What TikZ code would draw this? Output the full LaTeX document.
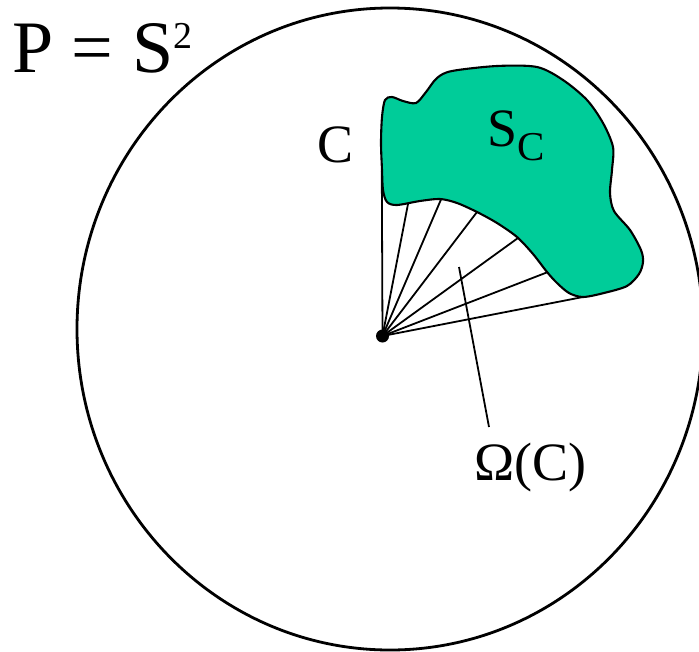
\documentclass[tikz,border=0pt]{standalone}
\usepackage{fontspec}
\setmainfont{Liberation Serif}
\definecolor{blobgreen}{RGB}{0,204,153}
\begin{document}
\begin{tikzpicture}[x=1pt,y=-1pt,
  ray/.style={line width=1.8pt},
  outline/.style={line width=2.1pt},
  lbl/.style={inner sep=0pt, anchor=base west},
  dotnode/.style={circle, fill=black, inner sep=0pt, minimum size=13pt}
]
\useasboundingbox (0,0) rectangle (699,651);
\clip (0,0) rectangle (699,651);
% sphere
\draw[line width=2.8pt] (390,329) ellipse [x radius=313, y radius=321];
% region S_C
\draw[outline, fill=blobgreen] plot[smooth cycle, tension=0.5] coordinates {
 (385,100) (392,97) (403,101) (416,103) (426,92) (437,78) (452,71)
 (497,66) (537,67) (563,80) (587,100) (603,123) (613,147) (612,170)
 (610,193) (614,211) (630,230) (641,250) (643,262) (639,274) (627,286)
 (604,293) (583,297) (569,293) (557,283) (547,272) (533,254) (517,237)
 (497,223) (477,212) (457,203) (440,199) (420,201) (397,205) (387,202)
 (383,190) (382,170) (381,143) (382,117)};
% ray end points
\coordinate (o) at (382.5,336);
\coordinate (r1) at (381.8,171);
\coordinate (r2) at (408,204);
\coordinate (r3) at (441,199.5);
\coordinate (r4) at (477,212);
\coordinate (r5) at (518,238);
\coordinate (r6) at (548,272);
\coordinate (r7) at (583,297);
\foreach \r in {r1,r2,r3,r4,r5,r6,r7} \draw[ray] (o) -- (\r);
\node[dotnode] (dot) at (o) {};
% leader for Omega(C)
\coordinate (l1) at (459,267);
\coordinate (l2) at (489,427);
\draw[ray] (l1) -- (l2);
% labels
\node[lbl] (P) at (12,72) {\fontsize{74}{74}\selectfont P = S{\fontsize{38}{38}\selectfont\raisebox{24pt}{2}}};
\node[lbl] (C) at (317,162) {\fontsize{54}{54}\selectfont C};
\node[lbl] (SC) at (487,146) {\fontsize{54}{54}\selectfont S{\fontsize{41}{41}\selectfont\raisebox{-14pt}{C}}};
\node[lbl] (Om) at (474,480) {\fontsize{54}{54}\selectfont Ω(C)};
\end{tikzpicture}
\end{document}
